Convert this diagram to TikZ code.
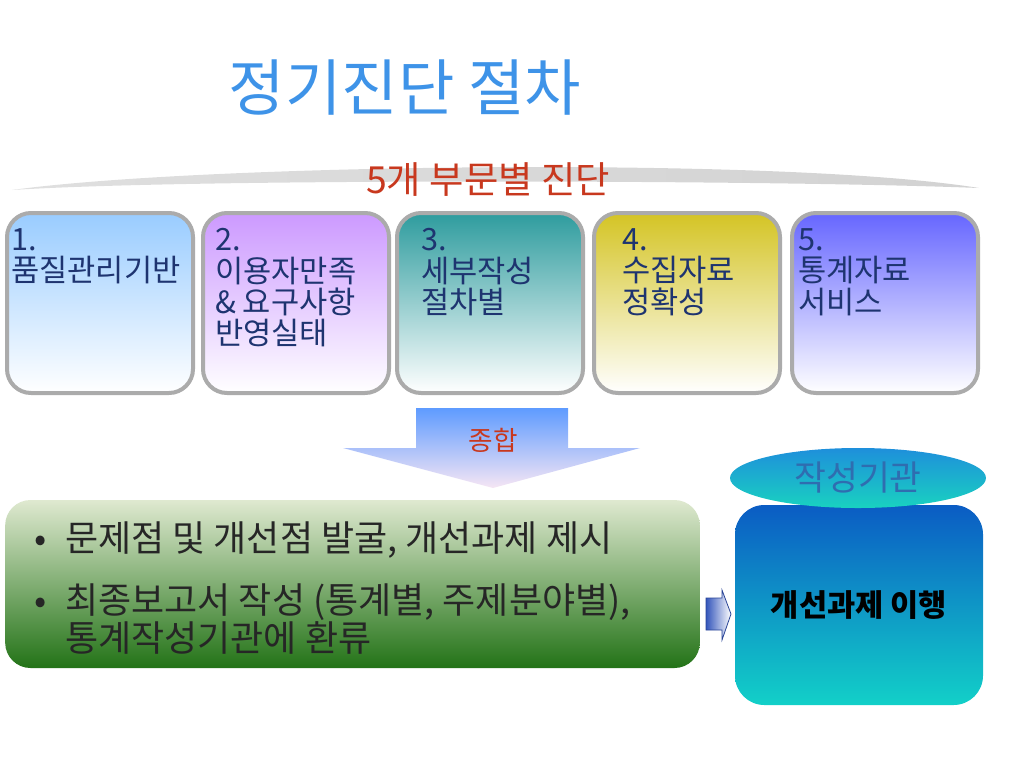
\documentclass[tikz,border=0pt]{standalone}
\usepackage{fontspec}
\setmainfont{Noto Sans CJK KR}
\usetikzlibrary{positioning, shapes.geometric, calc}

\definecolor{titleblue}{HTML}{3E93E8}
\definecolor{subred}{HTML}{C8381E}
\definecolor{navytext}{HTML}{1E3470}
\definecolor{boxgray}{HTML}{ABABAB}
\definecolor{fillone}{HTML}{99CCFF}
\definecolor{filltwo}{HTML}{CC99FF}
\definecolor{fillthree}{HTML}{2E9C9E}
\definecolor{fillfour}{HTML}{D4C424}
\definecolor{fillfive}{HTML}{6666FF}
\definecolor{greentop}{HTML}{DFE9D0}
\definecolor{greenmid}{HTML}{9DBA78}
\definecolor{greenbot}{HTML}{237317}
\definecolor{bluetop}{HTML}{0B5CC4}
\definecolor{bluemid}{HTML}{18B4E6}
\definecolor{bluebot}{HTML}{12D0C8}
\definecolor{ovaltop}{HTML}{1E8FDB}
\definecolor{ovalbot}{HTML}{19D2C0}
\definecolor{ovaltext}{HTML}{2F6DB0}
\definecolor{arrowtop}{HTML}{5E9BFF}
\definecolor{arrowtip}{HTML}{F6E6F4}
\definecolor{smallblue}{HTML}{3355BB}

\tikzset{
  part/.style={draw=boxgray, line width=3pt, rounded corners=18pt,
    minimum width=139.5pt, minimum height=135pt, inner sep=0pt,
    top color=#1, bottom color=white},
  parttxt/.style={align=left, inner sep=0pt, text=navytext,
    font=\fontsize{23}{23.6}\selectfont},
  itemtxt/.style={align=left, inner sep=0pt, text=black!85,
    font=\fontsize{27}{27}\selectfont},
}

\begin{document}
\begin{tikzpicture}[x=0.75pt, y=-0.75pt]
  \useasboundingbox (0,0) rectangle (1024,768);

  % title and heading
  \node (title) at (405,88) [text=titleblue, font=\fontsize{46}{50}\selectfont] {정기진단 절차};
  \path[left color=gray!25, middle color=gray!72, right color=gray!35]
    (12,190) .. controls (200,164) and (780,156) .. (979,188)
    .. controls (780,180) and (200,178) .. cycle;
  \node (heading) at (488,180) [text=subred, font=\fontsize{28}{30}\selectfont] {5개 부문별 진단};

  % the five parts
  \node (box1) [part=fillone]   at (100,303) {};
  \node (box2) [part=filltwo]   at (296,303) {};
  \node (box3) [part=fillthree] at (490,303) {};
  \node (box4) [part=fillfour]  at (687,303) {};
  \node (box5) [part=fillfive]  at (885,303) {};
  \node (txt1) [parttxt, anchor=north west] at ($(box1.north west)+(6,17)$) {1.\\품질관리기반};
  \node (txt2) [parttxt, anchor=north west] at ($(box2.north west)+(14,17)$) {2.\\이용자만족\\\& 요구사항\\반영실태};
  \node (txt3) [parttxt, anchor=north west] at ($(box3.north west)+(26,17)$) {3.\\세부작성\\절차별};
  \node (txt4) [parttxt, anchor=north west] at ($(box4.north west)+(30,17)$) {4.\\수집자료\\정확성};
  \node (txt5) [parttxt, anchor=north west] at ($(box5.north west)+(8,17)$) {5.\\통계자료\\서비스};

  % summary arrow
  \path[top color=arrowtop, bottom color=arrowtip]
    (416,408) -- (568,408) -- (568,448) -- (640,448) -- (493,488)
    -- (343,448) -- (416,448) -- cycle;
  \node (sum) at (493,440) [text=subred, font=\fontsize{20}{22}\selectfont] {종합};

  % findings
  \node (result) at (352.5,584) [rounded corners=19pt, minimum width=521pt, minimum height=126pt,
    inner sep=0pt, top color=greentop, middle color=greenmid, bottom color=greenbot] {};
  \node (item1) [itemtxt, anchor=west] at (65,540) {문제점 및 개선점 발굴, 개선과제 제시};
  \node (item2) [itemtxt, anchor=west] at (65,602) {최종보고서 작성 (통계별, 주제분야별),};
  \node (item3) [itemtxt, anchor=west] at (65,638) {통계작성기관에 환류};
  \node (bul1) [itemtxt, anchor=base east] at ($(item1.base west)+(-18,0)$) {•};
  \node (bul2) [itemtxt, anchor=base east] at ($(item2.base west)+(-18,0)$) {•};

  % hand over to the producing agency
  \node (action) at (859,605) [rounded corners=22pt, minimum width=186pt, minimum height=150pt,
    inner sep=0pt, top color=bluetop, middle color=bluemid, bottom color=bluebot,
    font=\fontsize{23}{25}\selectfont\bfseries] {개선과제 이행};
  \node (agency) at (858,478) [ellipse, minimum width=192pt, minimum height=45pt, inner sep=0pt,
    top color=ovaltop, bottom color=ovalbot, text=ovaltext,
    font=\fontsize{26}{28}\selectfont] {작성기관};
  \draw[draw=smallblue!80!black, line width=0.6pt, left color=smallblue, right color=white]
    (706,598) -- (722,598) -- (722,590) -- (731,614) -- (722,640) -- (722,630) -- (706,630) -- cycle;
\end{tikzpicture}
\end{document}
